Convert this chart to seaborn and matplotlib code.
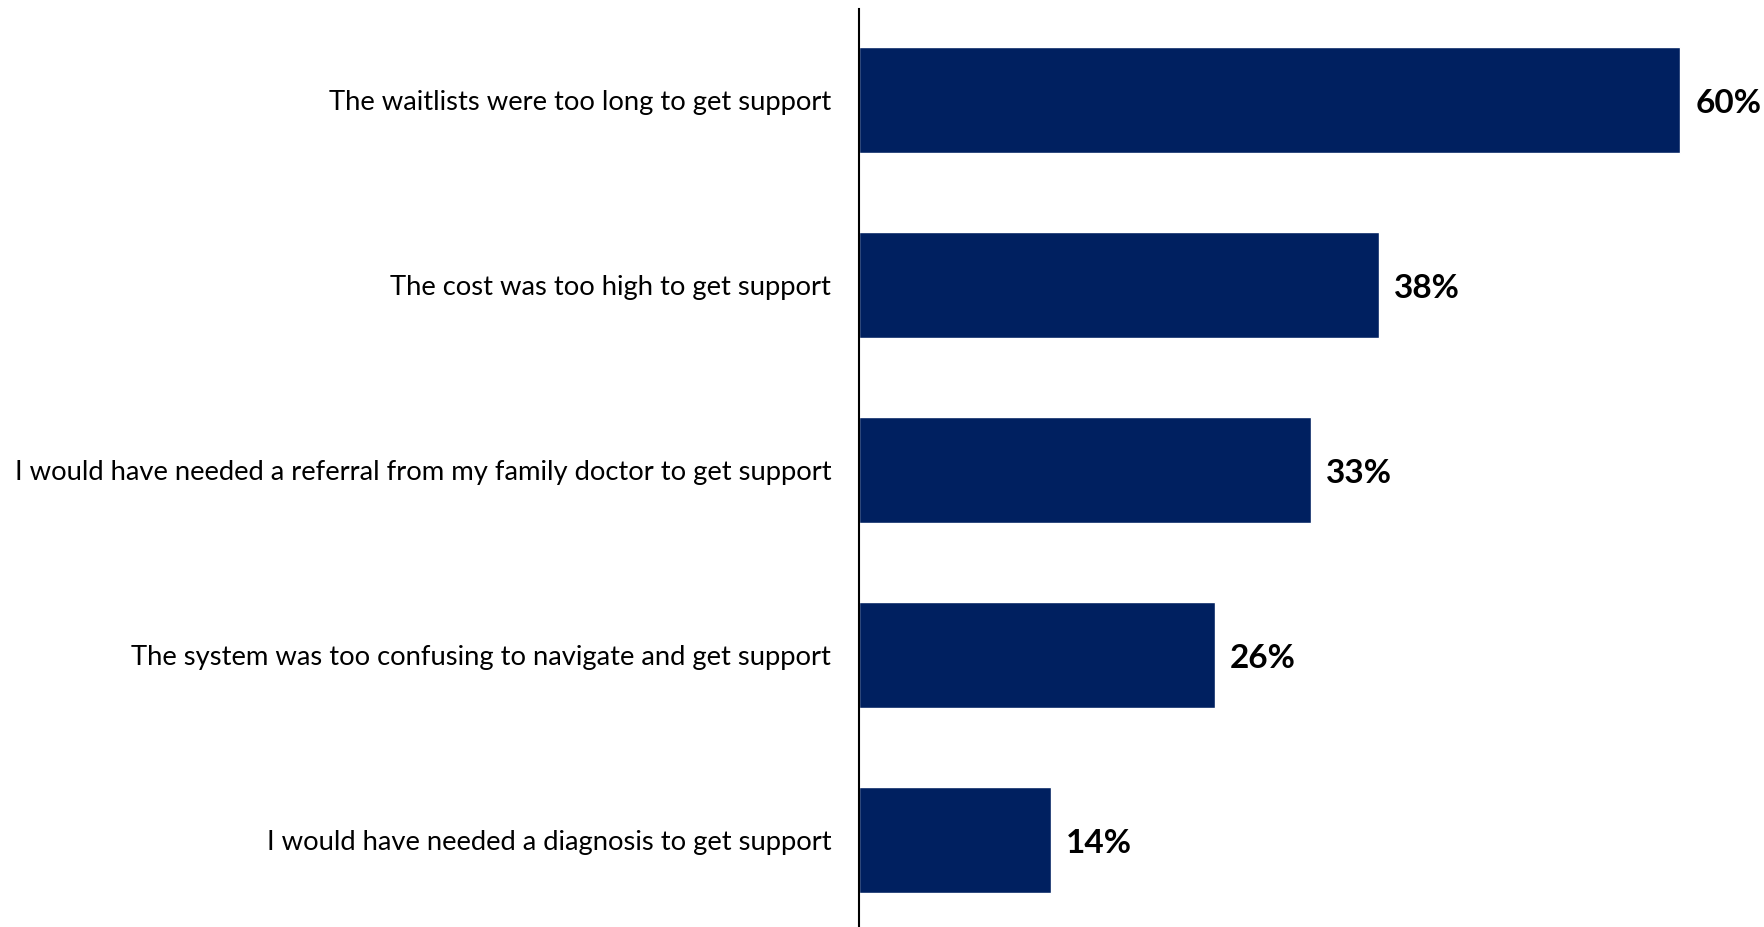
import matplotlib
matplotlib.use("Agg")
import matplotlib.pyplot as plt
import seaborn as sns
import pandas as pd

reasons = [
    "The waitlists were too long to get support",
    "The cost was too high to get support",
    "I would have needed a referral from my family doctor to get support",
    "The system was too confusing to navigate and get support",
    "I would have needed a diagnosis to get support",
]
shares = [60, 38, 33, 26, 14]

df = pd.DataFrame({"reason": reasons, "share": shares})

sns.set_theme(style="white")
plt.rcParams["font.family"] = ["Lato", "DejaVu Sans"]

fig = plt.figure(figsize=(17.65, 9.27), dpi=100)
ax = fig.add_axes([859 / 1765, 0.0, 1 - 859 / 1765, (927 - 9) / 927])

sns.barplot(data=df, x="share", y="reason", orient="h", color="#002060",
            width=0.573, saturation=1, ax=ax)

ax.set_xlim(0, 60 * 906 / 821)
ax.set_ylim(4.47, -0.49)
ax.set_xlabel("")
ax.set_ylabel("")
ax.set_xticks([])
for s in ["top", "right", "bottom"]:
    ax.spines[s].set_visible(False)
ax.spines["left"].set_color("black")
ax.spines["left"].set_linewidth(1.5)
ax.tick_params(axis="y", length=0, pad=20, labelsize=19.7, labelcolor="black")

# value labels just right of each bar end
for i, v in enumerate(shares):
    ax.annotate(f"{v}%", xy=(v, i), xytext=(11, -2.5), textcoords="offset points",
                ha="left", va="center", fontsize=24, fontweight="bold",
                color="black")

fig.savefig("out.png", dpi=100)
